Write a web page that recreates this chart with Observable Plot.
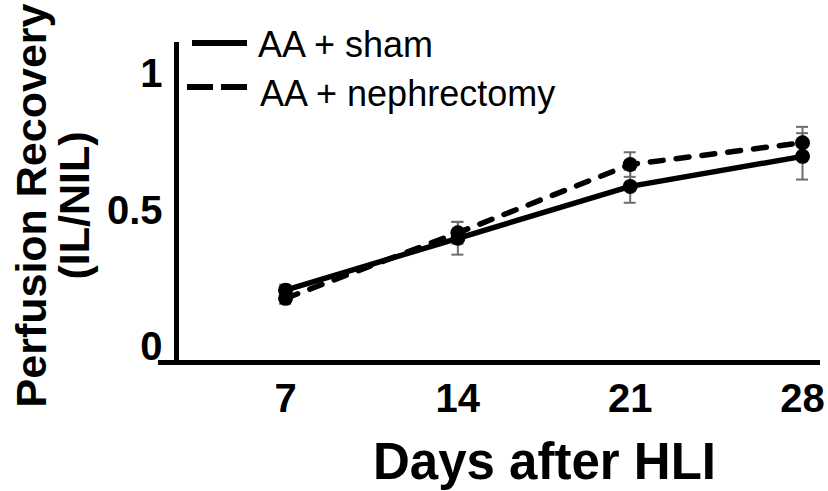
<!DOCTYPE html>
<html>
<head>
<meta charset="utf-8">
<script src="https://cdn.jsdelivr.net/npm/d3@7"></script>
<script src="https://cdn.jsdelivr.net/npm/@observablehq/plot@0.6"></script>
<style>
  html, body { margin: 0; padding: 0; background: #fff; }
  #chart svg { display: block; }
</style>
</head>
<body>
<div id="chart"></div>
<script>
// ---- data ----
const days = [7, 14, 21, 28];
const shamMean = [0.21, 0.40, 0.59, 0.70];
const shamErr  = [0.02, 0.06, 0.06, 0.085];
const nephMean = [0.18, 0.42, 0.67, 0.75];
const nephErr  = [0.02, 0.04, 0.045, 0.058];
const seriesNames = ["AA + sham", "AA + nephrectomy"];
const yTicks = [0, 0.5, 1];
const yTickLabels = ["0", "0.5", "1"];
const xTickLabels = ["7", "14", "21", "28"];
const xTitle = "Days after HLI";
const yTitle = "Perfusion Recovery\n(IL/NIL)";

// ---- build table ----
const rows = [];
days.forEach((d, i) => {
  rows.push({day: d, value: shamMean[i], err: shamErr[i], series: seriesNames[0]});
  rows.push({day: d, value: nephMean[i], err: nephErr[i], series: seriesNames[1]});
});
const sham = rows.filter(r => r.series === seriesNames[0]);
const neph = rows.filter(r => r.series === seriesNames[1]);

const W = 828, H = 491;
const mL = 158, mR = 8, mT = 42, mB = 129;
const xDom = [1.84, 28.73];
const yDom = [-0.055, 1.117];
const pxPerDay = (W - mL - mR) / (xDom[1] - xDom[0]);
const capHalf = 6 / pxPerDay;
const yAxisAt = xDom[0] + 18 / pxPerDay;
const font = "Liberation Sans, Arial, Helvetica, sans-serif";

const plot = Plot.plot({
  width: W, height: H,
  marginLeft: mL, marginRight: mR, marginTop: mT, marginBottom: mB,
  x: {domain: xDom, axis: null},
  y: {domain: yDom, axis: null},
  style: {fontFamily: font, background: "#fff"},
  marks: [
    // axis lines
    Plot.ruleX([yAxisAt], {y1: yDom[0], y2: yDom[1], stroke: "#000", strokeWidth: 5}),
    Plot.ruleY([yDom[0]], {x1: xDom[0], x2: xDom[1], stroke: "#000", strokeWidth: 5}),
    // error bars
    Plot.ruleX(rows, {x: "day", y1: d => d.value - d.err, y2: d => d.value + d.err, stroke: "#6e6e6e", strokeWidth: 2}),
    Plot.ruleY(rows, {y: d => d.value + d.err, x1: d => d.day - capHalf, x2: d => d.day + capHalf, stroke: "#6e6e6e", strokeWidth: 2}),
    Plot.ruleY(rows, {y: d => d.value - d.err, x1: d => d.day - capHalf, x2: d => d.day + capHalf, stroke: "#6e6e6e", strokeWidth: 2}),
    // lines
    Plot.line(sham, {x: "day", y: "value", stroke: "#000", strokeWidth: 5.5}),
    Plot.line(neph, {x: "day", y: "value", stroke: "#000", strokeWidth: 5.5, strokeDasharray: "13,13", strokeLinecap: "round"}),
    // points
    Plot.dot(rows, {x: "day", y: "value", r: 7.5, fill: "#000", stroke: "none"}),
    // y tick labels
    Plot.text(yTicks, {y: d => d, text: (d, i) => yTickLabels[i], frameAnchor: "left", dx: 4, textAnchor: "end", lineAnchor: "middle", fontSize: 40, fontWeight: "bold", fill: "#000"}),
    // x tick labels
    Plot.text(days, {x: d => d, text: (d, i) => xTickLabels[i], frameAnchor: "bottom", dy: 49, lineAnchor: "bottom", fontSize: 40, fontWeight: "bold", fill: "#000"}),
    // x title
    Plot.text([xTitle], {frameAnchor: "bottom", dx: 55, dy: 116, lineAnchor: "bottom", fontSize: 51, fontWeight: "bold", fill: "#000"}),
    // y title
    Plot.text([yTitle], {frameAnchor: "left", dx: -(mL - 88), dy: 3, rotate: -90, textAnchor: "middle", lineAnchor: "bottom", lineHeight: 0.98, fontSize: 43, fontWeight: "bold", fill: "#000"})
  ]
});

// legend
const svg = d3.select(plot);
const lg = svg.append("g").attr("font-family", font).attr("font-size", 36).attr("text-anchor", "start");
lg.append("line").attr("x1", 192).attr("x2", 247).attr("y1", 43).attr("y2", 43)
  .attr("stroke", "#000").attr("stroke-width", 6);
lg.append("line").attr("x1", 187).attr("x2", 247).attr("y1", 87).attr("y2", 87)
  .attr("stroke", "#000").attr("stroke-width", 6).attr("stroke-dasharray", "26,8");
lg.append("text").attr("x", 258).attr("y", 57).attr("text-anchor", "start").text(seriesNames[0]);
lg.append("text").attr("x", 260).attr("y", 106).attr("text-anchor", "start").text(seriesNames[1]);

document.getElementById("chart").appendChild(plot);
</script>
</body>
</html>
